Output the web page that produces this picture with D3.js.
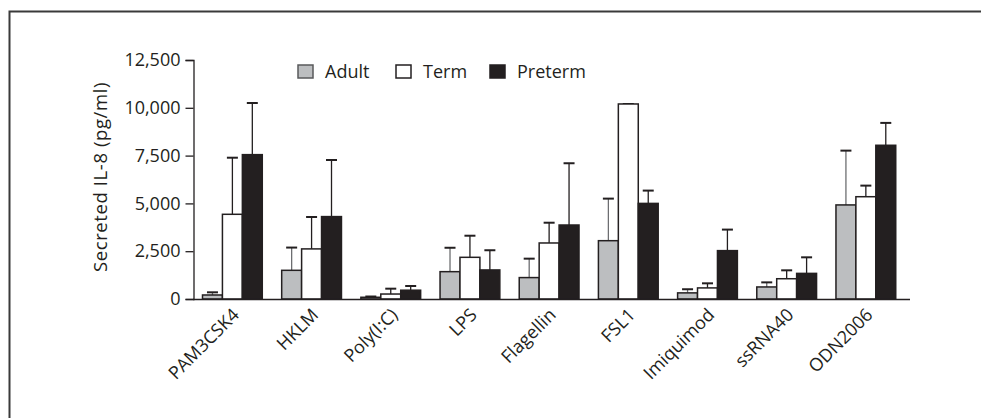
<!DOCTYPE html>
<html>
<head>
<meta charset="utf-8">
<script src="https://cdn.jsdelivr.net/npm/d3@7"></script>
<style>
  html, body { margin: 0; padding: 0; background: #fff; }
  svg text { font-family: "Open Sans", "Noto Sans", sans-serif; fill: #231f20; }
</style>
</head>
<body>
<div id="chart"></div>
<script>
// stimuli on the x axis
var categories = ["PAM3CSK4", "HKLM", "Poly(I:C)", "LPS", "Flagellin", "FSL1", "Imiquimod", "ssRNA40", "ODN2006"];
var seriesNames = ["Adult", "Term", "Preterm"];
// mean values (pg/ml)
var adult   = [210, 1500, 90, 1430, 1120, 3050, 320, 630, 4920];
var term    = [4430, 2620, 260, 2180, 2930, 10200, 580, 1060, 5350];
var preterm = [7550, 4310, 460, 1520, 3870, 5000, 2530, 1340, 8040];
// top of error bar (mean + SD)
var adultErr   = [350, 2690, 130, 2680, 2110, 5250, 510, 870, 7760];
var termErr    = [7390, 4290, 540, 3310, 3990, 10200, 820, 1500, 5930];
var pretermErr = [10250, 7270, 680, 2550, 7100, 5670, 3630, 2180, 9210];
var yTicks = [0, 2500, 5000, 7500, 10000, 12500];

var fills = ["#bcbec0", "#ffffff", "#231f20"];
var W = 981, H = 418;

var svg = d3.select("#chart").append("svg")
    .attr("width", W)
    .attr("height", H);

// outer frame (runs off the right and bottom edges)
svg.append("path")
    .attr("d", "M9.5," + (H + 5) + " L9.5,11.5 L" + (W + 5) + ",11.5")
    .attr("fill", "none")
    .attr("stroke", "#3a3a3a")
    .attr("stroke-width", 2);

var y = d3.scaleLinear().domain([0, 12500]).range([299, 60]);
var x0 = d3.scaleBand().domain(categories).range([193, 910])
    .paddingInner(0.245).paddingOuter(0.15).align(0.4);
var x1 = d3.scaleBand().domain(seriesNames).range([0, x0.bandwidth()]);

var rows = categories.map(function (c, i) {
    return {
        cat: c,
        vals: [
            { s: "Adult", v: adult[i], e: adultErr[i], k: 0 },
            { s: "Term", v: term[i], e: termErr[i], k: 1 },
            { s: "Preterm", v: preterm[i], e: pretermErr[i], k: 2 }
        ]
    };
});

var g = svg.selectAll("g.grp").data(rows).enter().append("g")
    .attr("class", "grp")
    .attr("transform", function (d) { return "translate(" + x0(d.cat) + ",0)"; });

// error bars first so the bars cover the stem
var eb = g.selectAll("g.err").data(function (d) { return d.vals; }).enter().append("g")
    .attr("class", "err");
eb.append("line")
    .attr("x1", function (d) { return x1(d.s) + x1.bandwidth() / 2; })
    .attr("x2", function (d) { return x1(d.s) + x1.bandwidth() / 2; })
    .attr("y1", function (d) { return y(d.v); })
    .attr("y2", function (d) { return y(d.e); })
    .attr("stroke", function (d) { return d.k == 0 ? "#6d6e71" : "#231f20"; })
    .attr("stroke-width", 1.3);
eb.append("line")
    .attr("x1", function (d) { return x1(d.s) + x1.bandwidth() / 2 - 5.5; })
    .attr("x2", function (d) { return x1(d.s) + x1.bandwidth() / 2 + 5.5; })
    .attr("y1", function (d) { return y(d.e); })
    .attr("y2", function (d) { return y(d.e); })
    .attr("stroke", "#231f20")
    .attr("stroke-width", 2);

g.selectAll("rect").data(function (d) { return d.vals; }).enter().append("rect")
    .attr("x", function (d) { return x1(d.s); })
    .attr("y", function (d) { return y(d.v); })
    .attr("width", x1.bandwidth())
    .attr("height", function (d) { return y(0) - y(d.v); })
    .attr("fill", function (d) { return fills[d.k]; })
    .attr("stroke", "#231f20")
    .attr("stroke-width", 1.5);

// y axis
var yAxis = svg.append("g")
    .attr("transform", "translate(193.5,0)")
    .call(d3.axisLeft(y).tickValues(yTicks).tickSize(8).tickPadding(5)
        .tickFormat(d3.format(",")));
yAxis.select(".domain").attr("stroke", "#231f20").attr("stroke-width", 1.3);
yAxis.selectAll(".tick line").attr("stroke", "#231f20").attr("stroke-width", 1.3);
yAxis.selectAll(".tick text").attr("font-size", 18).attr("fill", "#231f20");

// x axis line
svg.append("line")
    .attr("x1", 193).attr("x2", 910)
    .attr("y1", 299.5).attr("y2", 299.5)
    .attr("stroke", "#231f20").attr("stroke-width", 1.5);

// x labels, rotated
svg.selectAll("text.xl").data(categories).enter().append("text")
    .attr("class", "xl")
    .attr("text-anchor", "end")
    .attr("font-size", 18)
    .attr("transform", function (d) {
        return "translate(" + (x0(d) + x0.bandwidth() / 2 + 8) + ",316) rotate(-45)";
    })
    .text(function (d) { return d; });

// y title
svg.append("text")
    .attr("text-anchor", "middle")
    .attr("font-size", 18.5)
    .attr("letter-spacing", 0.6)
    .attr("transform", "translate(107,177) rotate(-90)")
    .text("Secreted IL-8 (pg/ml)");

// legend
var legX = [298, 396, 490];
var leg = svg.selectAll("g.leg").data(seriesNames).enter().append("g")
    .attr("class", "leg")
    .attr("transform", function (d, i) { return "translate(" + legX[i] + ",65)"; });
leg.append("rect")
    .attr("width", 15).attr("height", 13)
    .attr("fill", function (d, i) { return fills[i]; })
    .attr("stroke", function (d, i) { return i == 0 ? "#58595b" : "#231f20"; })
    .attr("stroke-width", 1.5);
leg.append("text")
    .attr("x", 27).attr("y", 13)
    .attr("font-size", 18)
    .text(function (d) { return d; });
</script>
</body>
</html>
